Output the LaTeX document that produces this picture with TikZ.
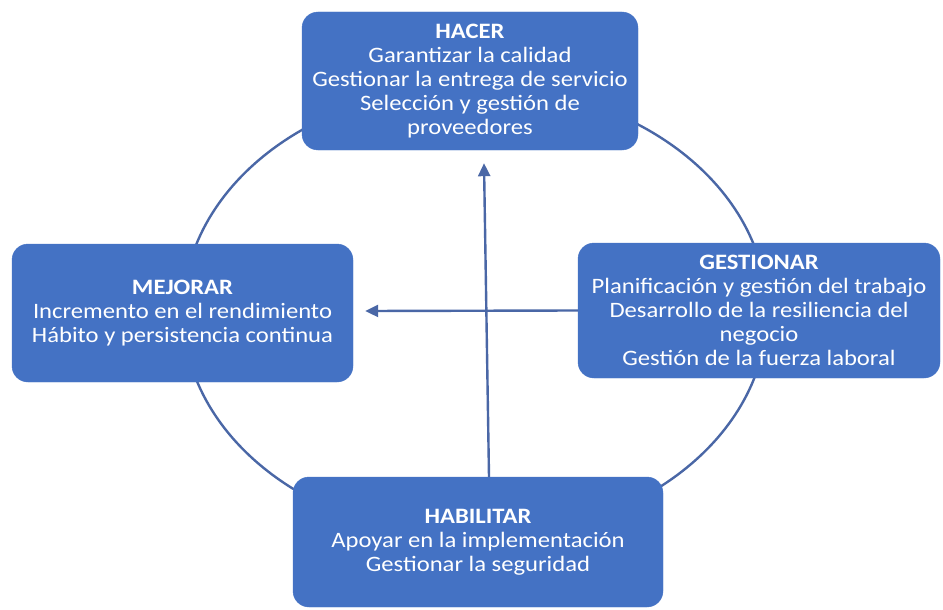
\documentclass[tikz,border=0pt]{standalone}
\usepackage{fontspec}
\setmainfont{Carlito}[FakeStretch=1.12]
\usetikzlibrary{arrows.meta}
\definecolor{boxblue}{HTML}{4472C4}
\definecolor{linkblue}{HTML}{4A67A6}
\begin{document}
\begin{tikzpicture}[x=1pt,y=-1pt,
  phase/.style={fill=boxblue, draw=boxblue, rounded corners=16pt, text=white,
    align=center, font=\fontsize{22}{24}\selectfont, inner sep=0pt},
  cyc/.style={draw=linkblue, line width=2.4pt},
  arr/.style={draw=linkblue, line width=2.4pt, -{Triangle[length=13pt,width=12pt]}}]
\useasboundingbox (0,0) rectangle (943,610);
% the cycle behind the four phases
\draw[cyc] (475,312) ellipse [x radius=292, y radius=226];
% phases
\node[phase, minimum width=336pt, minimum height=138pt] (hacer) at (470,81)
  {\textbf{HACER}\\Garantizar la calidad\\Gestionar la entrega de servicio\\Selección y gestión de\\proveedores};
\node[phase, minimum width=341pt, minimum height=138pt] (mej) at (182.5,313)
  {\textbf{MEJORAR}\\Incremento en el rendimiento\\Hábito y persistencia continua};
\node[phase, minimum width=362pt, minimum height=135pt] (gest) at (759,310.5)
  {\textbf{GESTIONAR}\\Planificación y gestión del trabajo\\Desarrollo de la resiliencia del\\negocio\\Gestión de la fuerza laboral};
\node[phase, minimum width=370pt, minimum height=130pt] (hab) at (478,542)
  {\textbf{HABILITAR}\\Apoyar en la implementación\\Gestionar la seguridad};
% arrows
\draw[arr] ([xshift=11pt]hab.north) -- ([xshift=14pt,yshift=-13pt]hacer.south);
\draw[arr] (gest.west) -- ([xshift=12pt,yshift=2pt]mej.east);
\end{tikzpicture}
\end{document}
